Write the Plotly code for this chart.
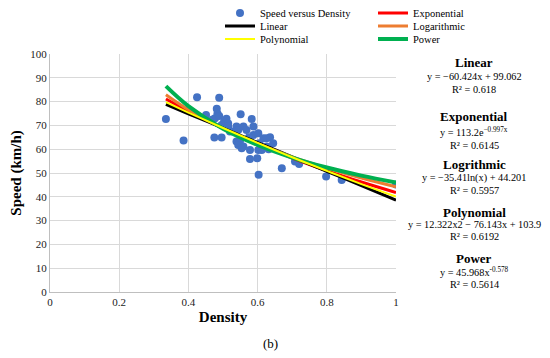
import plotly.graph_objects as go

# ---- data ----
density = [0.335, 0.386, 0.425, 0.451, 0.470, 0.477, 0.482, 0.484, 0.489, 0.489,
           0.503, 0.510, 0.496, 0.515, 0.515, 0.475, 0.496, 0.520, 0.530, 0.539,
           0.544, 0.551, 0.559, 0.568, 0.583, 0.588, 0.588, 0.602, 0.539, 0.549,
           0.544, 0.559, 0.554, 0.578, 0.602, 0.612, 0.626, 0.578, 0.599, 0.603,
           0.617, 0.626, 0.636, 0.645, 0.632, 0.670, 0.708, 0.720, 0.798, 0.843,
           1.000, 0.575, 0.605]
speed = [72.7, 63.7, 81.8, 74.4, 72.5, 73.0, 77.0, 75.0, 81.6, 74.0,
         71.6, 72.8, 70.2, 70.8, 69.5, 64.9, 64.9, 67.4, 67.4, 69.5,
         68.1, 74.7, 69.5, 68.1, 72.7, 69.5, 66.0, 66.7, 63.2, 63.2,
         61.8, 61.1, 60.4, 59.7, 59.7, 59.7, 61.1, 55.9, 56.2, 49.3,
         64.6, 64.6, 65.0, 62.5, 60.0, 52.0, 54.8, 53.8, 48.5, 47.1,
         45.2, 65.0, 62.5]

trend_x = [0.335, 0.4, 0.5, 0.6, 0.7, 0.8, 0.9, 1.0]
linear_y = [78.8, 74.9, 68.9, 62.8, 56.8, 50.7, 44.7, 38.6]
exponential_y = [81.1, 76.0, 68.8, 62.3, 56.3, 51.0, 46.2, 41.8]
logarithmic_y = [82.9, 76.6, 68.7, 62.3, 56.8, 52.1, 47.9, 44.2]
polynomial_y = [79.8, 75.4, 68.9, 62.65, 56.6, 50.9, 45.35, 40.08]
power_y = [86.5, 78.1, 68.6, 61.8, 56.5, 52.3, 48.9, 46.0]

x_ticks = [0, 0.2, 0.4, 0.6, 0.8, 1]
x_tick_labels = ["0", "0.2", "0.4", "0.6", "0.8", "1"]
y_ticks = [0, 10, 20, 30, 40, 50, 60, 70, 80, 90, 100]

equations = [
    ("Linear", "y = \u221260.424x + 99.062", "R\u00b2 = 0.618"),
    ("Exponential", "y = 113.2e<sup>\u22120.997x</sup>", "R\u00b2 = 0.6145"),
    ("Logrithmic", "y = \u221235.41ln(x) + 44.201", "R\u00b2 = 0.5957"),
    ("Polynomial", "y = 12.322x2 \u2212 76.143x + 103.9", "R\u00b2 = 0.6192"),
    ("Power", "y = 45.968x<sup>-0.578</sup>", "R\u00b2 = 0.5614"),
]

FONT = "Liberation Serif"
OFF = 8  # page body margin
W, H = 550 - OFF, 358 - OFF
L, R, T, B = 50 - OFF, 154, 54 - OFF, 66


def px(xp):  # reference pixel -> paper
    return (xp - OFF - L) / (W - L - R)


def py(yp):
    return (H - B - (yp - OFF)) / (H - T - B)


fig = go.Figure()
fig.add_trace(go.Scatter(x=density, y=speed, mode="markers", name="Speed versus Density",
                         marker=dict(color="#4472C4", size=8), legend="legend"))
fig.add_trace(go.Scatter(x=trend_x, y=exponential_y, mode="lines", name="Exponential",
                         line=dict(color="#FF0000", width=3, shape="spline"), legend="legend2"))
fig.add_trace(go.Scatter(x=trend_x, y=linear_y, mode="lines", name="Linear",
                         line=dict(color="#000000", width=3, shape="spline"), legend="legend3"))
fig.add_trace(go.Scatter(x=trend_x, y=logarithmic_y, mode="lines", name="Logarithmic",
                         line=dict(color="#ED7D31", width=3, shape="spline"), legend="legend4"))
fig.add_trace(go.Scatter(x=trend_x, y=power_y, mode="lines", name="Power",
                         line=dict(color="#00B050", width=4, shape="spline"), legend="legend6"))
fig.add_trace(go.Scatter(x=trend_x, y=polynomial_y, mode="lines", name="Polynomial",
                         line=dict(color="#FFFF00", width=2, shape="spline"), legend="legend5"))

ann = []
rows = [(63, 76, 89), (117, 132, 145), (164, 178, 190), (212, 224, 237), (258, 272, 284)]
for (title, eq, r2), (y1, y2, y3) in zip(equations, rows):
    ann.append(dict(x=px(474), y=py(y1), xref="paper", yref="paper", text="<b>%s</b>" % title,
                    showarrow=False, font=dict(family=FONT, size=13, color="#000"),
                    xanchor="center", yanchor="middle"))
    ann.append(dict(x=px(474), y=py(y2), xref="paper", yref="paper", text=eq,
                    showarrow=False, font=dict(family=FONT, size=10.3, color="#000"),
                    xanchor="center", yanchor="middle"))
    ann.append(dict(x=px(474), y=py(y3), xref="paper", yref="paper", text=r2,
                    showarrow=False, font=dict(family=FONT, size=10.3, color="#000"),
                    xanchor="center", yanchor="middle"))
ann.append(dict(x=px(270), y=py(343), xref="paper", yref="paper", text="(b)",
                showarrow=False, font=dict(family=FONT, size=13, color="#000"),
                xanchor="center", yanchor="middle"))


def leg(xr, yr):
    return dict(x=px(xr), y=py(yr), xanchor="left", yanchor="middle",
                font=dict(family=FONT, size=10.5, color="#000"), bgcolor="rgba(0,0,0,0)",
                itemwidth=30)


fig.update_layout(
    width=W, height=H,
    margin=dict(l=L, r=R, t=T, b=B, autoexpand=False),
    paper_bgcolor="white", plot_bgcolor="white",
    font=dict(family=FONT, size=11, color="#000"),
    showlegend=True,
    legend=leg(220, 13),
    legend3=leg(220, 26),
    legend5=leg(220, 39),
    legend2=leg(373, 13),
    legend4=leg(373, 26),
    legend6=leg(373, 39),
    xaxis=dict(range=[0, 1], tickvals=x_ticks, ticktext=x_tick_labels, showgrid=True,
               gridcolor="#D9D9D9", gridwidth=1, zeroline=False, showline=True,
               linecolor="#BFBFBF", ticks="", tickfont=dict(family=FONT, size=11, color="#222"),
               title=dict(text="<b>Density</b>", font=dict(family=FONT, size=15, color="#000"),
                          standoff=4)),
    yaxis=dict(range=[0, 100], tickvals=y_ticks, showgrid=True, gridcolor="#D9D9D9",
               gridwidth=1, zeroline=False, showline=True, linecolor="#BFBFBF", ticks="",
               tickfont=dict(family=FONT, size=11, color="#222"),
               title=dict(text="<b>Speed (km/h)</b>", font=dict(family=FONT, size=15, color="#000"),
                          standoff=6)),
    annotations=ann,
)

fig.write_html("out.html")
